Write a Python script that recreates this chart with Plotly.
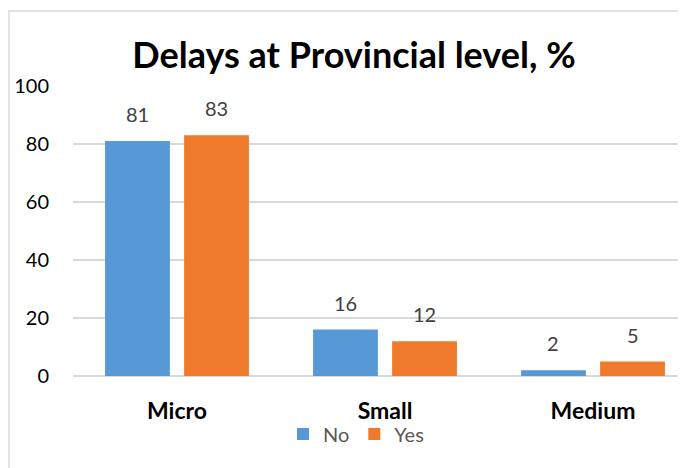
import plotly.graph_objects as go

categories = ["Micro", "Small", "Medium"]
no_values = [81, 16, 2]
yes_values = [83, 12, 5]
y_ticks = [0, 20, 40, 60, 80, 100]

FONT = "Lato"
BLUE = "#5699d6"
ORANGE = "#ef7a2c"

fig = go.Figure()
fig.add_trace(go.Bar(name="No", x=categories, y=no_values,
                     marker=dict(color=BLUE, line=dict(width=0))))
fig.add_trace(go.Bar(name="Yes", x=categories, y=yes_values,
                     marker=dict(color=ORANGE, line=dict(width=0))))

W, H = 686, 468
L, T, B = 65, 78, 100
pw = W - L
ph = H - T - B
cat_px = 208
BARGAP = 0.24
half = (1 - BARGAP) / 4  # offset of each bar centre from the category centre

annotations = []
for i, (n, y) in enumerate(zip(no_values, yes_values)):
    for val, off in ((n, -half), (y, half)):
        annotations.append(dict(
            x=i + off, y=val, xref="x", yref="y", text=str(val),
            showarrow=False, yshift=27, yanchor="middle",
            font=dict(family=FONT, size=20, color="#404040")))

fig.update_layout(
    width=W, height=H,
    margin=dict(l=L, r=0, t=T, b=B, pad=0),
    paper_bgcolor="white", plot_bgcolor="white",
    barmode="group", bargap=BARGAP, bargroupgap=0.18,
    title=dict(text="<b>Delays at Provincial level, %</b>",
               font=dict(family=FONT, size=36, color="#000000"),
               x=(346 - L) / pw, xref="paper", xanchor="center",
               y=1 - 47 / H, yref="container", yanchor="middle"),
    showlegend=True,
    legend=dict(orientation="h", x=(275 - L) / pw, xanchor="left",
                y=-(426 - (T + ph)) / ph, yanchor="middle",
                font=dict(family=FONT, size=20, color="#595959"),
                itemwidth=30, tracegroupgap=0, bgcolor="rgba(0,0,0,0)"),
    xaxis=dict(range=[-0.5, -0.5 + pw / cat_px], showgrid=False, showline=False,
               ticks="", ticklabelstandoff=19,
               tickfont=dict(family=FONT, size=23, color="#000000"),
               tickprefix="<b>", ticksuffix="</b>", zeroline=False),
    yaxis=dict(range=[0, 100], tickvals=y_ticks, showgrid=True,
               gridcolor="#d9d9d9", gridwidth=1.5, zeroline=True,
               zerolinecolor="#d9d9d9", zerolinewidth=1.5, showline=False,
               ticks="", ticklabelstandoff=23,
               tickfont=dict(family=FONT, size=20, color="#000000")),
    annotations=annotations,
    shapes=[dict(type="rect", xref="paper", yref="paper",
                 x0=(1 - L) / pw, x1=1.2, y0=-0.5, y1=(T + ph - 3) / ph,
                 line=dict(color="#d9d9d9", width=1.5), layer="below")],
)

fig.write_html("out.html")
